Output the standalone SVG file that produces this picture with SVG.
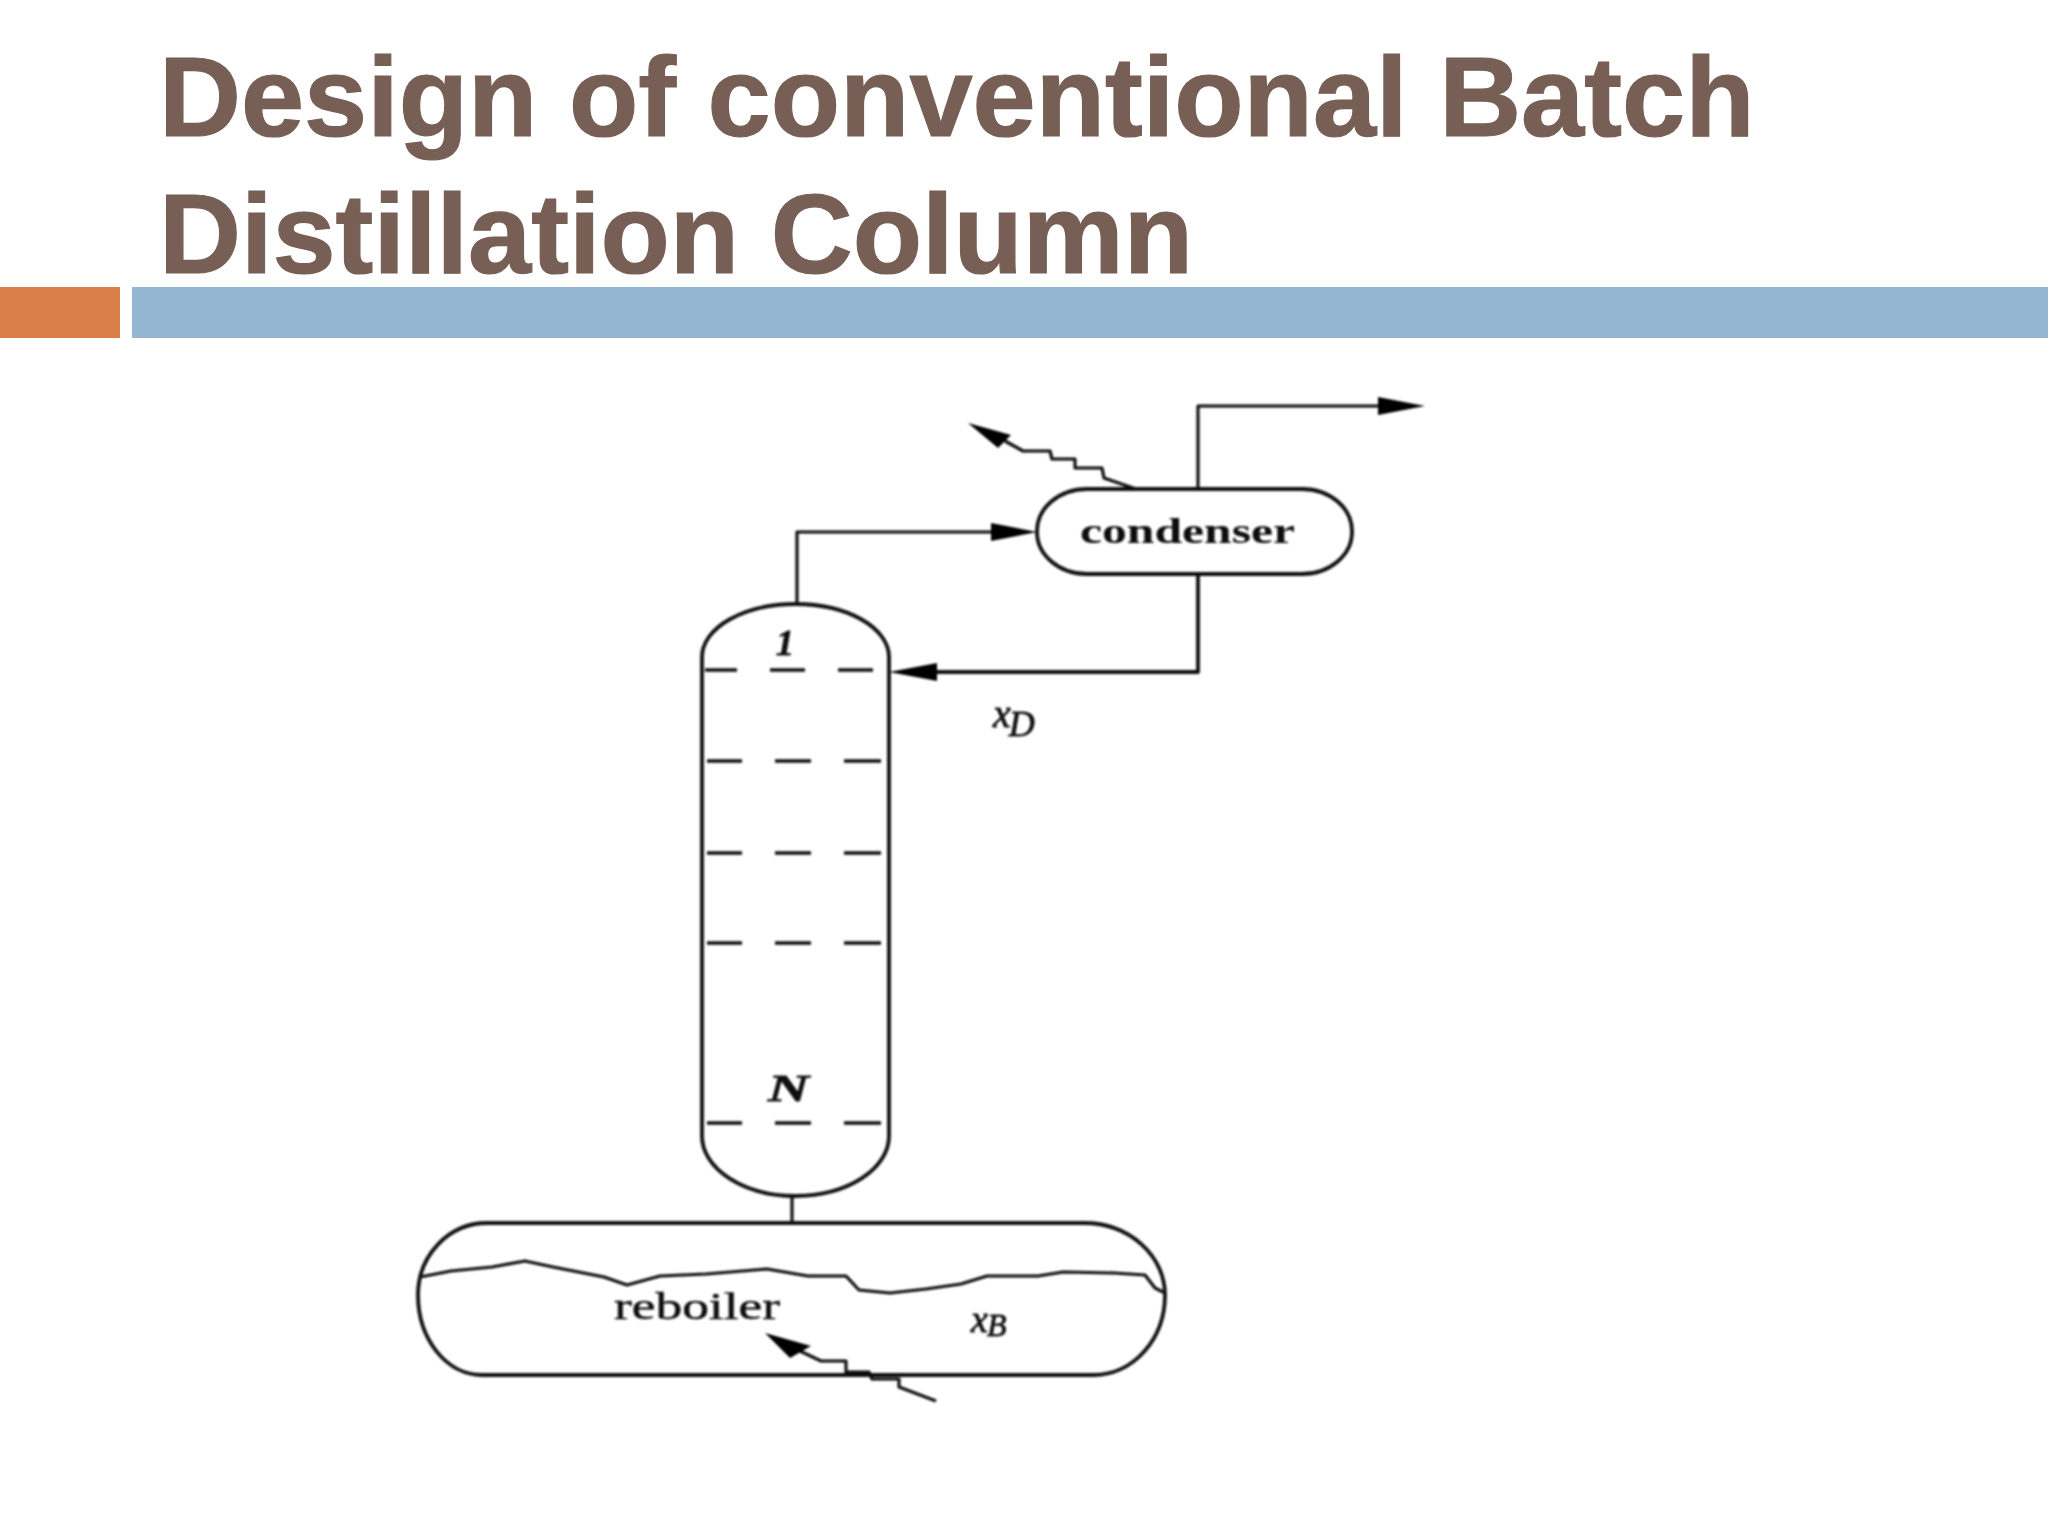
<svg xmlns="http://www.w3.org/2000/svg" width="2048" height="1536" viewBox="0 0 2048 1536">
<defs>
<style>
.title{font-family:"Liberation Sans",Arial,sans-serif;font-weight:700;font-size:113.5px;fill:#775F55;stroke:#775F55;stroke-width:1.2}
.ln{fill:none;stroke:#0c0c0c;stroke-width:3.2;stroke-linejoin:round}
.thick{stroke-width:3.8}
.tray{fill:none;stroke:#111;stroke-width:3.4}
.head{fill:#000;stroke:none}
.lab{font-family:"Liberation Serif","Times New Roman",serif;fill:#111}
.it{font-style:italic;stroke:#111;stroke-width:0.8}
</style>
<filter id="soft" x="-5%" y="-5%" width="110%" height="110%"><feGaussianBlur stdDeviation="0.8"/></filter>
</defs>
<rect width="2048" height="1536" fill="#fff"/>
<g id="title">
<text class="title" x="159" y="136">Design of conventional Batch</text>
<text class="title" x="159" y="273">Distillation Column</text>
</g>
<g id="banner">
<rect x="0" y="287" width="120" height="51" fill="#DB7F48"/>
<rect x="132" y="287" width="1916" height="51" fill="#94B6D2"/>
</g>
<g filter="url(#soft)">
<g id="connectors">
<path class="ln" d="M797 604V532H995"/>
<path class="head" d="M991 523L1037 532L991 541Z"/>
<path class="ln" d="M1198 489V406H1382"/>
<path class="head" d="M1378 397L1425 406L1378 415Z"/>
<path class="ln thick" d="M1198 574V672H935"/>
<path class="head" d="M937 663L889 672L937 681Z"/>
<path class="ln" d="M792 1196V1223"/>
<path class="ln" d="M1136 489L1104 478L1102 468H1075V459H1052L1050 451H1023L1005 441"/>
<path class="head" d="M968 423L1011 435L998 448Z"/>
<path class="ln" d="M936 1401L899 1387V1379H872L869 1372H846V1361H821L800 1351"/>
<path class="head" d="M765 1333L811 1346L790 1358Z"/>
</g>
<g id="condenser">
<rect class="ln thick" x="1037" y="489" width="315" height="85" rx="50" ry="42" fill="none"/>
<text class="lab" x="1080" y="543" font-size="36" font-weight="700" textLength="215" lengthAdjust="spacingAndGlyphs">condenser</text>
</g>
<g id="column">
<path class="ln thick" d="M702 657A93.5 53 0 0 1 889 657V1136A93.5 60 0 0 1 702 1136Z"/>
<path class="tray" d="M705 670H737M770 670H805M838 670H873"/>
<path class="tray" d="M707 761H742M775 761H811M844 761H881"/>
<path class="tray" d="M707 853H742M775 853H811M844 853H881"/>
<path class="tray" d="M707 943H742M775 943H811M844 943H881"/>
<path class="tray" d="M707 1123H742M775 1123H811M844 1123H881"/>
<text class="lab it" x="776" y="655" font-size="36" font-weight="700">1</text>
<text class="lab it" x="768" y="1101" font-size="38" font-weight="700" textLength="41" lengthAdjust="spacingAndGlyphs">N</text>
<text class="lab it" x="993" y="727" font-size="40">x<tspan font-size="36" dy="9" dx="-2">D</tspan></text>
</g>
<g id="reboiler">
<path class="ln thick" d="M487 1223H1084A81 72 0 0 1 1165 1295A71 80 0 0 1 1094 1375H482A64 80 0 0 1 418 1295A69 72 0 0 1 487 1223Z"/>
<path class="ln" d="M420 1277L451 1271L492 1267L525 1261L553 1267L604 1277L627 1285L660 1276L706 1274L767 1269L808 1276L846 1276L859 1290L890 1293L926 1289L961 1284L987 1276L1038 1276L1063 1272L1114 1273L1145 1275L1155 1288L1165 1293"/>
<text class="lab" x="614" y="1319" font-size="38" textLength="166" lengthAdjust="spacingAndGlyphs" stroke="#111" stroke-width="0.5">reboiler</text>
<text class="lab it" x="971" y="1332" font-size="38">x<tspan font-size="32" dy="4" dx="-1">B</tspan></text>
</g>
</g>
</svg>
